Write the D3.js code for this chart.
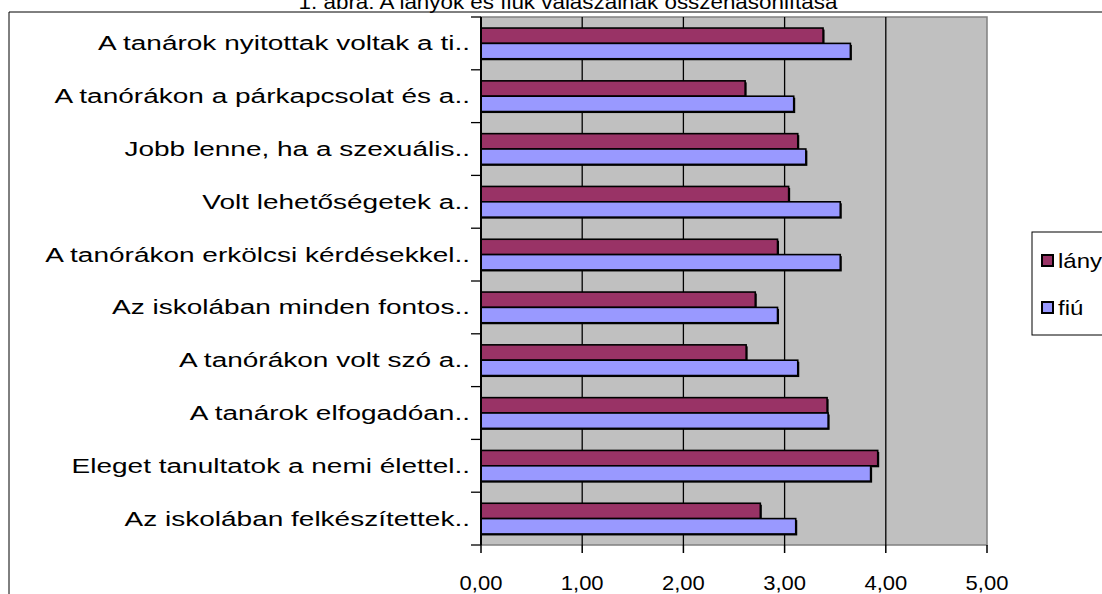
<!DOCTYPE html>
<html><head><meta charset="utf-8">
<script src="https://cdn.jsdelivr.net/npm/d3@7"></script>
<style>
body{margin:0;background:#fff;}
text{font-family:"Liberation Sans",Arial,sans-serif;fill:#000;}
</style></head>
<body><svg id="c" width="1102" height="594"></svg>
<script>
const title = "1. ábra: A lányok és fiúk válaszainak összehasonlítása";
const categories = [
  "A tanárok nyitottak voltak a ti..",
  "A tanórákon a párkapcsolat és a..",
  "Jobb lenne, ha a szexuális..",
  "Volt lehetőségetek a..",
  "A tanórákon erkölcsi kérdésekkel..",
  "Az iskolában minden fontos..",
  "A tanórákon volt szó a..",
  "A tanárok elfogadóan..",
  "Eleget tanultatok a nemi élettel..",
  "Az iskolában felkészítettek.."
];
const seriesNames = ["lány", "fiú"];
const lany = [3.38, 2.61, 3.13, 3.04, 2.93, 2.71, 2.62, 3.42, 3.92, 2.76];
const fiu  = [3.65, 3.09, 3.21, 3.55, 3.55, 2.93, 3.13, 3.43, 3.85, 3.11];
const tickValues = [0, 1, 2, 3, 4, 5];
const colors = ["#993366", "#9999FF"];

const svg = d3.select("#c");
const L = 481, R = 987, T = 17, B = 545;

// outer chart border
svg.append("path").attr("d", `M9,594 V12 H1102`).attr("fill","none").attr("stroke","#000").attr("stroke-width",1);

// title
svg.append("text").attr("class","title")
  .attr("transform","translate(568,9) scale(1.12,1)")
  .attr("text-anchor","middle").style("font-size","20px").text(title);

const x = d3.scaleLinear().domain([0,5]).range([L, R]);
const y0 = d3.scaleBand().domain(categories).range([T, B]).paddingInner(0).paddingOuter(0);
const y1 = d3.scaleBand().domain(seriesNames).range([0, y0.bandwidth()]).paddingInner(0).paddingOuter(0.72);

// plot area
svg.append("rect").attr("x", L).attr("y", T).attr("width", R-L).attr("height", B-T)
  .attr("fill","#C0C0C0").attr("stroke","#808080").attr("stroke-width",1.5);

// gridlines
svg.append("g").selectAll("line").data(tickValues.filter(v => v>0 && v<5)).join("line")
  .attr("x1", d=>x(d)).attr("x2", d=>x(d)).attr("y1", T).attr("y2", B)
  .attr("stroke","#000").attr("stroke-width",1.3);

// bars
const rows = categories.map((c,i)=>({cat:c, vals:[lany[i], fiu[i]]}));
const g = svg.append("g");
rows.forEach(r=>{
  r.vals.forEach((v,j)=>{
    const yy = y0(r.cat) + y1(seriesNames[j]);
    const h = y1.bandwidth();
    g.append("rect").attr("x", x(0)).attr("y", yy+1.5).attr("width", x(v)-x(0)+1.5).attr("height", h)
      .attr("fill","#000");
    g.append("rect").attr("x", x(0)).attr("y", yy).attr("width", x(v)-x(0)).attr("height", h)
      .attr("fill", colors[j]).attr("stroke","#000").attr("stroke-width",1.6);
  });
});

// left axis
svg.append("line").attr("x1",L).attr("x2",L).attr("y1",T).attr("y2",B).attr("stroke","#000").attr("stroke-width",2);
const bounds = categories.map(c=>y0(c)).concat([B]);
svg.append("g").selectAll("line").data(bounds).join("line")
  .attr("x1", L-10).attr("x2", L).attr("y1", d=>d).attr("y2", d=>d).attr("stroke","#000").attr("stroke-width",1.3);

// category labels
svg.append("g").selectAll("text").data(categories).join("text")
  .attr("class","lab")
  .attr("transform", d=>`translate(${L-11},${y0(d)+y0.bandwidth()/2+7}) scale(1.4,1)`)
  .attr("text-anchor","end").style("font-size","20px").text(d=>d);

// bottom axis ticks
svg.append("g").selectAll("line").data(tickValues).join("line")
  .attr("x1", d=>x(d)).attr("x2", d=>x(d)).attr("y1", B).attr("y2", B+8).attr("stroke","#000").attr("stroke-width",1.5);
svg.append("g").selectAll("text").data(tickValues).join("text")
  .attr("transform", d=>`translate(${x(d)},${590}) scale(1.1,1)`)
  .attr("text-anchor","middle").style("font-size","20px").text(d=>d3.format(".2f")(d).replace(".",","));

// legend
const lg = svg.append("g");
lg.append("rect").attr("x",1032).attr("y",232).attr("width",80).attr("height",103).attr("fill","#fff").attr("stroke","#000").attr("stroke-width",1);
seriesNames.forEach((s,j)=>{
  const yy = 255 + j*47;
  lg.append("rect").attr("x",1042).attr("y",yy).attr("width",11).attr("height",11).attr("fill",colors[j]).attr("stroke","#000").attr("stroke-width",2);
  lg.append("text").attr("transform",`translate(1058,${yy+13}) scale(1.2,1)`).style("font-size","20px").text(s);
});
</script></body></html>
